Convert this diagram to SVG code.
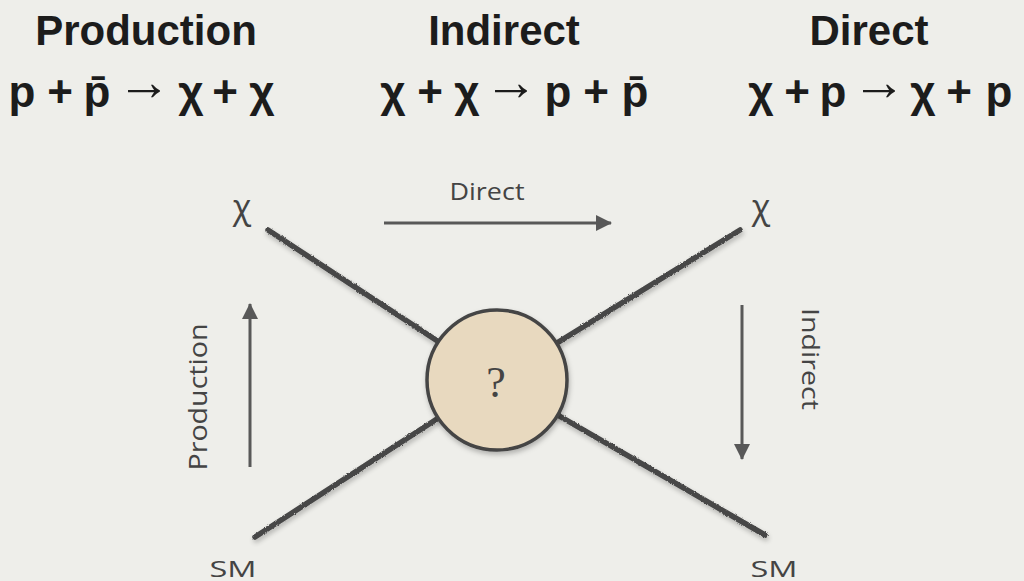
<svg xmlns="http://www.w3.org/2000/svg" width="1024" height="581" viewBox="0 0 1024 581">
  <defs>
    <style>
      .title { font-family: "Liberation Sans", Arial, sans-serif; font-weight: bold; font-size: 42px; fill: #1c1c1c; text-anchor: middle; }
      .eq { font-family: "Liberation Sans", Arial, sans-serif; font-weight: bold; font-size: 44px; fill: #1c1c1c; text-anchor: middle; }
      .eqarrow { font-family: "Liberation Sans", Arial, sans-serif; font-size: 54px; fill: #1c1c1c; text-anchor: middle; }
      .hand { font-family: "Open Sans", "DejaVu Sans", sans-serif; font-weight: 400; fill: #444; text-anchor: middle; }
      .pencil { stroke: #474747; stroke-width: 5.5; stroke-linecap: round; fill: none; filter: url(#rough); }
      .arrow { stroke: #585858; stroke-width: 3; fill: none; marker-end: url(#head); }
    </style>
    <filter id="shadow" x="-20%" y="-20%" width="140%" height="140%">
      <feDropShadow dx="1" dy="3" stdDeviation="2.5" flood-color="#000" flood-opacity="0.25"/>
    </filter>
    <filter id="rough" x="-10%" y="-10%" width="120%" height="130%">
      <feTurbulence type="fractalNoise" baseFrequency="0.9" numOctaves="2" seed="3" result="noise"/>
      <feDisplacementMap in="SourceGraphic" in2="noise" scale="2.5" xChannelSelector="R" yChannelSelector="G" result="rough"/>
      <feGaussianBlur in="SourceAlpha" stdDeviation="2.5" result="blur"/>
      <feOffset in="blur" dx="1" dy="3" result="off"/>
      <feComponentTransfer in="off" result="sh"><feFuncA type="linear" slope="0.25"/></feComponentTransfer>
      <feMerge><feMergeNode in="sh"/><feMergeNode in="rough"/></feMerge>
    </filter>
    <marker id="head" markerUnits="userSpaceOnUse" markerWidth="18" markerHeight="18" viewBox="0 0 16 18" refX="15" refY="9" orient="auto">
      <path d="M0,1 L16,9 L0,17 Z" fill="#585858"/>
    </marker>
  </defs>

  <rect x="0" y="0" width="1024" height="581" fill="#eeeeea"/>

  <g id="header-production">
    <text class="title" x="146" y="45">Production</text>
    <text class="eq" y="107"><tspan x="22">p</tspan><tspan x="60">+</tspan><tspan x="97">p̄</tspan><tspan x="191">χ</tspan><tspan x="225">+</tspan><tspan x="262">χ</tspan></text>
    <text class="eqarrow" x="144" y="100">→</text>
  </g>
  <g id="header-indirect">
    <text class="title" x="504" y="45">Indirect</text>
    <text class="eq" y="107"><tspan x="393">χ</tspan><tspan x="430">+</tspan><tspan x="467">χ</tspan><tspan x="558">p</tspan><tspan x="596">+</tspan><tspan x="635">p̄</tspan></text>
    <text class="eqarrow" x="511" y="100">→</text>
  </g>
  <g id="header-direct">
    <text class="title" x="869" y="45">Direct</text>
    <text class="eq" y="107"><tspan x="761">χ</tspan><tspan x="797">+</tspan><tspan x="833">p</tspan><tspan x="923">χ</tspan><tspan x="959">+</tspan><tspan x="999">p</tspan></text>
    <text class="eqarrow" x="879" y="100">→</text>
  </g>

  <g id="connectors">
    <line class="pencil" x1="268" y1="230" x2="497" y2="380"/>
    <line class="pencil" x1="740" y1="230" x2="497" y2="380"/>
    <line class="pencil" x1="255" y1="537" x2="497" y2="380"/>
    <line class="pencil" x1="765" y1="535" x2="497" y2="380"/>
    <g id="arrow-direct">
      <line class="arrow" x1="384" y1="223" x2="611" y2="223"/>
      <text class="hand" x="487" y="200" font-size="24" textLength="75" lengthAdjust="spacingAndGlyphs">Direct</text>
    </g>
    <g id="arrow-production">
      <line class="arrow" x1="250" y1="467" x2="250" y2="304"/>
      <text class="hand" font-size="25" textLength="147" lengthAdjust="spacingAndGlyphs" transform="translate(207,397) rotate(-90)">Production</text>
    </g>
    <g id="arrow-indirect">
      <line class="arrow" x1="742" y1="305" x2="742" y2="459"/>
      <text class="hand" font-size="24" textLength="102" lengthAdjust="spacingAndGlyphs" transform="translate(802,359) rotate(90)">Indirect</text>
    </g>
  </g>

  <g id="node-chi-left">
    <text class="hand" x="242" y="219" font-size="34" font-weight="300">χ</text>
  </g>
  <g id="node-chi-right">
    <text class="hand" x="761" y="219" font-size="34" font-weight="300">χ</text>
  </g>
  <g id="node-sm-left">
    <text class="hand" x="233" y="577" font-size="22" textLength="47" lengthAdjust="spacingAndGlyphs">SM</text>
  </g>
  <g id="node-sm-right">
    <text class="hand" x="774" y="577" font-size="22" textLength="47" lengthAdjust="spacingAndGlyphs">SM</text>
  </g>
  <g id="node-vertex">
    <circle cx="497" cy="380" r="70" fill="#e8d9bf" stroke="#454545" stroke-width="3.5" filter="url(#shadow)"/>
    <text x="496" y="397" font-family="Liberation Serif, serif" font-size="44" fill="#444" text-anchor="middle">?</text>
  </g>
</svg>
